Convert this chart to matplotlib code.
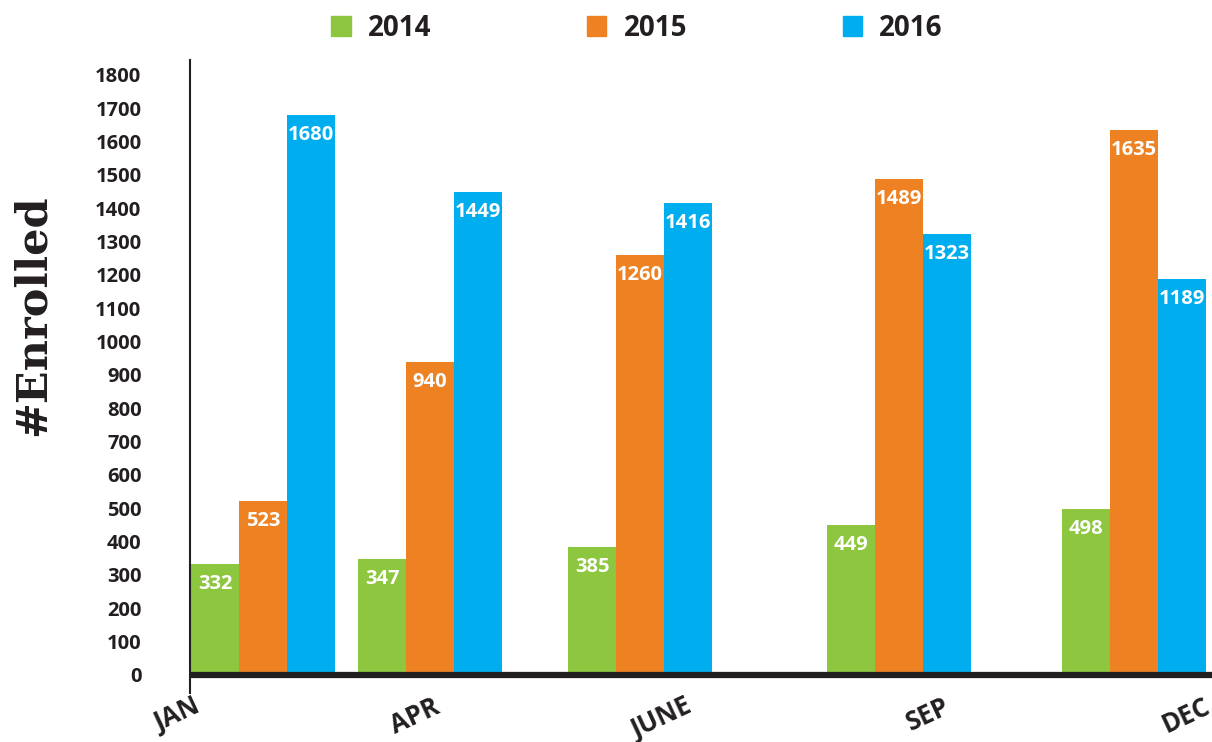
import numpy as np
import matplotlib.pyplot as plt
from matplotlib.patches import Patch

# data
months = ['JAN', 'APR', 'JUNE', 'SEP', 'DEC']
years = ['2014', '2015', '2016']
enrolled_2014 = [332, 347, 385, 449, 498]
enrolled_2015 = [523, 940, 1260, 1489, 1635]
enrolled_2016 = [1680, 1449, 1416, 1323, 1189]

colors = ['#8dc63f', '#ee8122', '#00aeef']
dark = '#231f20'
font = 'Open Sans'

# layout (x in pixel-like units, groups are unevenly spaced in the original)
group_left = [191, 358, 568, 827, 1062]
bar_w = 48
tick_pos = [193, 432, 685, 943, 1203]

fig = plt.figure(figsize=(12.12, 7.42), dpi=100)
ax = fig.add_axes([190 / 1212, 49 / 742, 1 - 190 / 1212, 633 / 742])

series = [enrolled_2014, enrolled_2015, enrolled_2016]
for i, vals in enumerate(series):
    xs = np.array(group_left) + i * bar_w
    bars = ax.bar(xs, vals, width=bar_w, align='edge', color=colors[i], zorder=2)
    for b, v in zip(bars, vals):
        ax.annotate(str(v), (b.get_x() + b.get_width() / 2, v), xytext=(0, -14.5),
                    textcoords='offset points', ha='center', va='center',
                    color='white', fontsize=14.5, fontweight='bold', family=font,
                    zorder=3)

ax.axhline(0, color=dark, lw=4.5, zorder=4)
ax.set_xlim(190, 1212)
ax.set_ylim(-54, 1845)
ax.set_yticks(range(0, 1801, 100))
ax.set_yticklabels([str(t) for t in range(0, 1801, 100)], fontsize=14.5,
                   fontweight='bold', family=font, color=dark)
ax.tick_params(axis='y', length=0, pad=35)
ax.set_xticks(tick_pos)
ax.set_xticklabels(months, rotation=25, ha='right', va='top', rotation_mode='anchor',
                   fontsize=18.5, fontweight='bold', family=font, color=dark)
ax.tick_params(axis='x', length=0, pad=0)

for s in ['top', 'right', 'bottom']:
    ax.spines[s].set_visible(False)
ax.spines['left'].set_color(dark)
ax.spines['left'].set_linewidth(1.5)

fig.text(33 / 1212, 1 - 315 / 742, '#Enrolled', rotation=90, ha='center', va='center',
         fontsize=31, fontweight='bold', family='DejaVu Serif', color=dark)

handles = [Patch(color=c, label=y) for c, y in zip(colors, years)]
leg = fig.legend(handles=handles, ncol=3, loc='center', bbox_to_anchor=(637 / 1212, 1 - 28 / 742),
                 frameon=False, handlelength=0.7, handleheight=0.72, handletextpad=0.62,
                 columnspacing=5.6, prop={'family': font, 'weight': 'bold', 'size': 20})
for t in leg.get_texts():
    t.set_color(dark)

fig.savefig('out.png', dpi=100)
